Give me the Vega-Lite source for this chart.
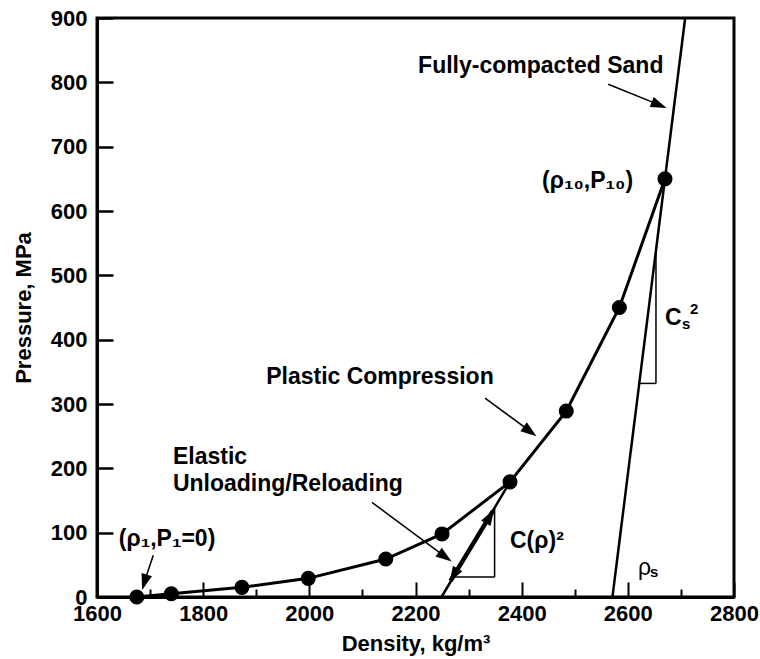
{
  "$schema": "https://vega.github.io/schema/vega-lite/v6.json",
  "width": 637,
  "height": 579,
  "autosize": "none",
  "padding": {"left": 97, "top": 18, "right": 26, "bottom": 62},
  "background": "white",
  "config": {
    "view": {"stroke": "black", "strokeWidth": 3},
    "font": "Liberation Sans"
  },
  "datasets": {
    "curve": [
      {"x": 1675, "y": 0}, {"x": 1740, "y": 5}, {"x": 1873, "y": 15}, {"x": 1998, "y": 29},
      {"x": 2144, "y": 59}, {"x": 2250, "y": 98}, {"x": 2378, "y": 179}, {"x": 2484, "y": 289},
      {"x": 2584, "y": 450}, {"x": 2670, "y": 650}
    ],
    "sand": [{"x": 2571, "y": 0}, {"x": 2708, "y": 900}],
    "elastic": [{"x": 2249, "y": 0}, {"x": 2378, "y": 179}],
    "elasticThick": [{"x": 2266, "y": 25}, {"x": 2346, "y": 134}],
    "thin": [
      {"x": 2271, "y": 31, "x2": 2349, "y2": 31},
      {"x": 2349, "y": 31, "x2": 2349, "y2": 139},
      {"x": 2621.5, "y": 332, "x2": 2653, "y2": 332},
      {"x": 2653, "y": 332, "x2": 2653, "y2": 539},
      {"x": 2563, "y": 797, "x2": 2665, "y2": 763},
      {"x": 2331, "y": 309, "x2": 2422, "y2": 254},
      {"x": 2118, "y": 147, "x2": 2262, "y2": 59},
      {"x": 1706, "y": 65, "x2": 1687, "y2": 18}
    ],
    "headSand": [{"x": 2673, "y": 760}],
    "headDiag": [{"x": 2428, "y": 250}, {"x": 2268, "y": 55}],
    "headRho1": [{"x": 1685, "y": 11}],
    "headUp": [{"x": 2348, "y": 136}],
    "headDown": [{"x": 2264, "y": 23}],
    "textLeft": [
      {"x": 1743, "y": 217, "text": "Elastic"},
      {"x": 1743, "y": 176, "text": "Unloading/Reloading"},
      {"x": 1641, "y": 90, "text": "(ρ₁,P₁=0)"},
      {"x": 2378, "y": 87, "text": "C(ρ)²"},
      {"x": 2670, "y": 434, "text": "C"}
    ],
    "textCenter": [
      {"x": 2436, "y": 825, "text": "Fully-compacted Sand"},
      {"x": 2133, "y": 342, "text": "Plastic Compression"}
    ],
    "textRight": [{"x": 2610, "y": 647, "text": "(ρ₁₀,P₁₀)"}],
    "csSub": [{"x": 2670, "y": 434, "text": "s"}],
    "csSup": [{"x": 2670, "y": 434, "text": "2"}],
    "rhoS": [{"x": 2619, "y": 45, "text": "ρ"}],
    "rhoSub": [{"x": 2619, "y": 45, "text": "s"}]
  },
  "encoding": {
    "x": {
      "field": "x", "type": "quantitative",
      "scale": {"domain": [1600, 2800], "nice": false, "zero": false},
      "axis": {
        "title": "Density, kg/m³",
        "values": [1600, 1700, 1800, 1900, 2000, 2100, 2200, 2300, 2400, 2500, 2600, 2700, 2800],
        "format": "d",
        "labelExpr": "datum.value % 200 === 0 ? datum.label : ''",
        "tickSize": {"condition": {"test": "datum.value % 200 === 0", "value": -15}, "value": -8},
        "tickWidth": 2, "tickColor": "black",
        "domainColor": "black", "domainWidth": 3,
        "grid": false,
        "labelFont": "Liberation Sans", "labelFontWeight": "bold", "labelFontSize": 22, "labelColor": "black",
        "labelPadding": 21, "labelFlush": false, "labelOverlap": false,
        "titleFont": "Liberation Sans", "titleFontWeight": "bold", "titleFontSize": 22, "titleColor": "black",
        "titleY": 46, "titleBaseline": "middle"
      }
    },
    "y": {
      "field": "y", "type": "quantitative",
      "scale": {"domain": [0, 900], "nice": false, "zero": true},
      "axis": {
        "title": "Pressure, MPa",
        "values": [0, 100, 200, 300, 400, 500, 600, 700, 800, 900],
        "format": "d",
        "tickSize": -16, "tickWidth": 2.5, "tickColor": "black",
        "domainColor": "black", "domainWidth": 3,
        "grid": false,
        "labelFont": "Liberation Sans", "labelFontWeight": "bold", "labelFontSize": 22, "labelColor": "black",
        "labelPadding": 26, "labelFlush": false, "labelOverlap": false,
        "titleFont": "Liberation Sans", "titleFontWeight": "bold", "titleFontSize": 22, "titleColor": "black",
        "titleX": -74, "titleY": 289.5, "titleBaseline": "middle", "titleAngle": -90
      }
    }
  },
  "layer": [
    {"data": {"name": "sand"}, "mark": {"type": "line", "color": "black", "strokeWidth": 2.5}},
    {"data": {"name": "elastic"}, "mark": {"type": "line", "color": "black", "strokeWidth": 2.5}},
    {"data": {"name": "elasticThick"}, "mark": {"type": "line", "color": "black", "strokeWidth": 4.5}},
    {"data": {"name": "thin"}, "mark": {"type": "rule", "color": "black", "strokeWidth": 1.5},
     "encoding": {"x2": {"field": "x2"}, "y2": {"field": "y2"}}},
    {"data": {"name": "curve"}, "mark": {"type": "line", "color": "black", "strokeWidth": 3}},
    {"data": {"name": "curve"}, "mark": {"type": "point", "shape": "circle", "filled": true, "color": "black", "opacity": 1, "size": 227}},
    {"data": {"name": "headSand"}, "mark": {"type": "point", "shape": "M0,0L-0.34,1L0.34,1Z", "filled": true, "color": "black", "opacity": 1, "size": 1024, "angle": 112}},
    {"data": {"name": "headDiag"}, "mark": {"type": "point", "shape": "M0,0L-0.34,1L0.34,1Z", "filled": true, "color": "black", "opacity": 1, "size": 1024, "angle": 126}},
    {"data": {"name": "headRho1"}, "mark": {"type": "point", "shape": "M0,0L-0.34,1L0.34,1Z", "filled": true, "color": "black", "opacity": 1, "size": 1024, "angle": 197}},
    {"data": {"name": "headUp"}, "mark": {"type": "point", "shape": "M0,0L-0.34,1L0.34,1Z", "filled": true, "color": "black", "opacity": 1, "size": 1024, "angle": 30.7}},
    {"data": {"name": "headDown"}, "mark": {"type": "point", "shape": "M0,0L-0.34,1L0.34,1Z", "filled": true, "color": "black", "opacity": 1, "size": 1024, "angle": 210.7}},
    {"data": {"name": "textLeft"}, "mark": {"type": "text", "align": "left", "baseline": "middle", "font": "Liberation Sans", "fontWeight": "bold", "fontSize": 23, "color": "black"},
     "encoding": {"text": {"field": "text"}}},
    {"data": {"name": "textCenter"}, "mark": {"type": "text", "align": "center", "baseline": "middle", "font": "Liberation Sans", "fontWeight": "bold", "fontSize": 23, "color": "black"},
     "encoding": {"text": {"field": "text"}}},
    {"data": {"name": "textRight"}, "mark": {"type": "text", "align": "right", "baseline": "middle", "font": "Liberation Sans", "fontWeight": "bold", "fontSize": 23, "color": "black"},
     "encoding": {"text": {"field": "text"}}},
    {"data": {"name": "csSub"}, "mark": {"type": "text", "align": "left", "baseline": "middle", "font": "Liberation Sans", "fontWeight": "bold", "fontSize": 15, "color": "black", "dx": 17, "dy": 6},
     "encoding": {"text": {"field": "text"}}},
    {"data": {"name": "csSup"}, "mark": {"type": "text", "align": "left", "baseline": "middle", "font": "Liberation Sans", "fontWeight": "bold", "fontSize": 15, "color": "black", "dx": 25, "dy": -9},
     "encoding": {"text": {"field": "text"}}},
    {"data": {"name": "rhoS"}, "mark": {"type": "text", "align": "left", "baseline": "middle", "font": "Liberation Sans", "fontSize": 23, "color": "black"},
     "encoding": {"text": {"field": "text"}}},
    {"data": {"name": "rhoSub"}, "mark": {"type": "text", "align": "left", "baseline": "middle", "font": "Liberation Sans", "fontWeight": "bold", "fontSize": 15, "color": "black", "dx": 12, "dy": 4},
     "encoding": {"text": {"field": "text"}}}
  ]
}
